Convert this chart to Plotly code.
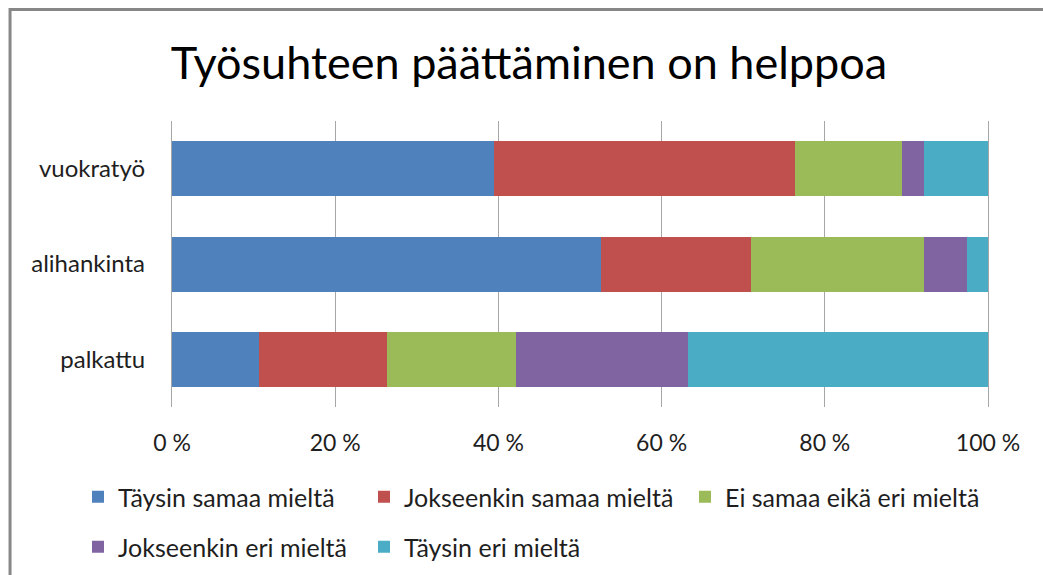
import plotly.graph_objects as go

categories = ["palkattu", "alihankinta", "vuokratyö"]
series_names = [
    "Täysin samaa mieltä",
    "Jokseenkin samaa mieltä",
    "Ei samaa eikä eri mieltä",
    "Jokseenkin eri mieltä",
    "Täysin eri mieltä",
]
taysin_samaa = [10.6, 52.6, 39.5]
jokseenkin_samaa = [15.7, 18.4, 36.9]
ei_samaa_eika_eri = [15.8, 21.2, 13.1]
jokseenkin_eri = [21.1, 5.2, 2.7]
taysin_eri = [36.8, 2.6, 7.8]
series_values = [taysin_samaa, jokseenkin_samaa, ei_samaa_eika_eri, jokseenkin_eri, taysin_eri]
tick_values = [0, 20, 40, 60, 80, 100]
tick_labels = ["0 %", "20 %", "40 %", "60 %", "80 %", "100 %"]
title_text = "Työsuhteen päättäminen on helppoa"

colors = ["#4F81BD", "#C0504D", "#9BBB59", "#8064A2", "#4BACC6"]
FONT = "Lato"
TXT = "#1E1E1E"
GRID = "#A6A6A6"

W, H = 1043, 575
ML, MR, MT, MB = 171.5, 55.3, 121, 168
plot_w = W - ML - MR
plot_h = H - MT - MB

legend_ids = ["legend", "legend2", "legend3", "legend4", "legend5"]
# legend entry positions (pixel coordinates of entry left edge, row center)
legend_pos = [(78, 497), (364, 497), (685, 497), (78, 547), (364, 547)]

fig = go.Figure()
for name, vals, col, lid in zip(series_names, series_values, colors, legend_ids):
    fig.add_trace(go.Bar(
        y=categories, x=vals, name=name, orientation="h",
        marker=dict(color=col, line=dict(width=0)),
        legend=lid,
        hoverinfo="x+y+name",
    ))

layout_legends = {}
for lid, (px, py) in zip(legend_ids, legend_pos):
    layout_legends[lid] = dict(
        orientation="h",
        xref="container", yref="container",
        x=px / W, y=1 - py / H,
        xanchor="left", yanchor="middle",
        font=dict(family=FONT, size=25, color=TXT),
        bgcolor="rgba(0,0,0,0)",
        itemwidth=30,
    )

fig.update_layout(
    width=W, height=H,
    margin=dict(l=ML, r=MR, t=MT, b=MB, autoexpand=False),
    barmode="stack",
    bargap=0.423,
    plot_bgcolor="white",
    paper_bgcolor="white",
    title=dict(
        text=title_text,
        font=dict(family=FONT, size=45, color="#000000"),
        xref="container", yref="container",
        x=529 / W, y=1 - 63 / H,
        xanchor="center", yanchor="middle",
    ),
    xaxis=dict(
        range=[0, 100],
        tickvals=tick_values,
        ticktext=tick_labels,
        showgrid=True,
        gridcolor=GRID,
        gridwidth=1.3,
        zeroline=False,
        showline=False,
        ticks="",
        ticklabelstandoff=20,
        tickfont=dict(family=FONT, size=23, color=TXT),
        fixedrange=True,
    ),
    yaxis=dict(
        showgrid=False,
        zeroline=False,
        showline=True,
        mirror=True,
        linecolor=GRID,
        linewidth=1.3,
        ticks="",
        ticklabelstandoff=21,
        tickfont=dict(family=FONT, size=24, color=TXT),
        categoryorder="array",
        categoryarray=categories,
        fixedrange=True,
    ),
    showlegend=True,
    **layout_legends,
)

# outer chart frame (gray border, top and left visible)
fig.add_shape(
    type="rect", xref="paper", yref="paper",
    x0=(9.5 - ML) / plot_w, x1=(W + 20 - ML) / plot_w,
    y0=(H - MB - 9.5) / plot_h, y1=(H - MB - (H + 20)) / plot_h,
    line=dict(color="#878787", width=3),
    fillcolor="rgba(0,0,0,0)",
    layer="below",
)

fig.write_html(
    "out.html",
    config={"displayModeBar": False},
    post_script="document.body.style.margin='0px';document.body.style.overflow='hidden';",
)
